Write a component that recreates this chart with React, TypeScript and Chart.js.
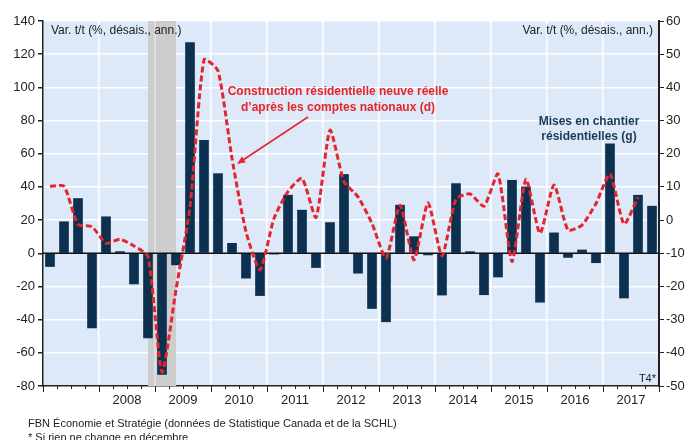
import React, { useEffect, useRef } from "react";
import { Chart, registerables } from "chart.js";

Chart.register(...registerables);

// ---- Data ----
const years = ["2007", "2008", "2009", "2010", "2011", "2012", "2013", "2014", "2015", "2016", "2017"];
const quarters = ["T1", "T2", "T3", "T4"];
const categories = years.flatMap((y) => quarters.map((q) => `${y}${q}`));

// Mises en chantier résidentielles (g), left axis
const housingStarts = [
  -8, 19, 33, -45, 22, 1, -18.5, -51, -73, -7, 127, 68, 48, 6, -15, -25.5,
  -0.5, 35, 26, -8.6, 18.5, 47.5, -12, -33.3, -41.3, 29, 10, -1, -25.2, 42, 1, -25,
  -14.3, 44, 40, -29.5, 12.3, -2.5, 2, -5.7, 66, -27, 35, 28.4,
];

// Construction résidentielle neuve réelle (d), right axis
const residentialConstruction = [
  10.2, 10.2, -1.3, -2, -7, -5.8, -7.8, -11, -45.8, -21, 4, 48.3, 45, 18.6, -3.5, -15,
  0.5, 8.6, 12.6, 0.8, 27.1, 11.6, 7, -1, -11.5, 4.5, -12, 5.2, -10.8, 6.3, 7.9, 4.2,
  13.9, -12.5, 12.3, -4, 10.6, -3, -1.5, 5, 13.9, -1.2, 6.9, null,
];

const leftTicks = { min: -80, max: 140, step: 20 };
const rightTicks = { min: -50, max: 60, step: 10 };
const recession = { from: "2008T4", to: "2009T2" };

const FONT = "'Liberation Sans', Arial, Helvetica, sans-serif";
const RED = "#e5242c";
const NAVY = "#0c3150";
const BG = "#dde9f8";

const decor = {
  id: "decor",
  beforeDraw(chart: any) {
    const { ctx, chartArea: a } = chart;
    ctx.save();
    ctx.fillStyle = BG;
    ctx.fillRect(a.left, a.top, a.right - a.left, a.bottom - a.top);
    ctx.restore();
  },
  beforeDatasetsDraw(chart: any) {
    const { ctx, chartArea: a } = chart;
    const xs = chart.scales.x;
    const i0 = categories.indexOf(recession.from);
    const i1 = categories.indexOf(recession.to);
    const x0 = xs.getPixelForValue(i0 + 0.5);
    const x1 = xs.getPixelForValue(i1 + 0.5);
    ctx.save();
    ctx.fillStyle = "#cdcdcd";
    ctx.fillRect(x0, a.top, x1 - x0, a.bottom - a.top);
    // faint year gridline inside the shade
    ctx.strokeStyle = "rgba(255,255,255,0.45)";
    ctx.lineWidth = 1.5;
    for (let v = 0; v <= categories.length; v += 4) {
      const px = xs.getPixelForValue(v);
      if (px > x0 && px < x1) {
        ctx.beginPath();
        ctx.moveTo(px, a.top);
        ctx.lineTo(px, a.bottom);
        ctx.stroke();
      }
    }
    ctx.restore();
  },
  beforeDatasetDraw(chart: any, args: any) {
    if (args.index !== 0) return;
    const { ctx, chartArea: a } = chart;
    const y0 = chart.scales.y.getPixelForValue(0);
    ctx.save();
    ctx.strokeStyle = "#111";
    ctx.lineWidth = 1.5;
    ctx.beginPath();
    ctx.moveTo(a.left, y0);
    ctx.lineTo(a.right, y0);
    ctx.stroke();
    ctx.restore();
  },
  afterDraw(chart: any) {
    const { ctx, chartArea: a } = chart;
    const xs = chart.scales.x;
    ctx.save();
    // x-axis ticks
    ctx.strokeStyle = "#222";
    ctx.lineWidth = 1;
    for (let i = 0; i <= categories.length; i++) {
      const px = Math.round(xs.getPixelForValue(i)) + 0.5;
      ctx.beginPath();
      ctx.moveTo(px, a.bottom);
      ctx.lineTo(px, a.bottom + (i % 4 === 0 ? 6 : 3));
      ctx.stroke();
    }
    // unit labels
    ctx.fillStyle = "#222";
    ctx.font = `12px ${FONT}`;
    ctx.textBaseline = "middle";
    ctx.textAlign = "left";
    ctx.fillText("Var. t/t (%, désais., ann.)", a.left + 8, 31);
    ctx.textAlign = "right";
    ctx.fillText("Var. t/t (%, désais., ann.)", a.right - 6, 31);
    ctx.font = `11px ${FONT}`;
    ctx.fillText("T4*", a.right - 3, 379);
    // red annotation
    ctx.textAlign = "center";
    ctx.font = `bold 12px ${FONT}`;
    ctx.fillStyle = RED;
    ctx.fillText("Construction résidentielle neuve réelle", 338, 92);
    ctx.fillText("d’après les comptes nationaux (d)", 338, 108);
    // arrow
    const sx = 308, sy = 117, ex = 237, ey = 164;
    ctx.strokeStyle = RED;
    ctx.lineWidth = 1.5;
    ctx.beginPath();
    ctx.moveTo(sx, sy);
    ctx.lineTo(ex + 6, ey - 4);
    ctx.stroke();
    const ang = Math.atan2(ey - sy, ex - sx);
    ctx.beginPath();
    ctx.moveTo(ex, ey);
    ctx.lineTo(ex - 9 * Math.cos(ang - 0.4), ey - 9 * Math.sin(ang - 0.4));
    ctx.lineTo(ex - 9 * Math.cos(ang + 0.4), ey - 9 * Math.sin(ang + 0.4));
    ctx.closePath();
    ctx.fillStyle = RED;
    ctx.fill();
    // navy annotation
    ctx.fillStyle = "#173a58";
    ctx.fillText("Mises en chantier", 589, 122);
    ctx.fillText("résidentielles (g)", 589, 137);
    // footer
    ctx.textAlign = "left";
    ctx.fillStyle = "#222";
    ctx.font = `11px ${FONT}`;
    ctx.fillText("FBN Économie et Stratégie (données de Statistique Canada et de la SCHL)", 28, 424);
    ctx.fillText("* Si rien ne change en décembre", 28, 438);
    ctx.restore();
  },
};

export default function App() {
  const ref = useRef<HTMLCanvasElement>(null);

  useEffect(() => {
    if (!ref.current) return;
    const n = categories.length;
    const chart = new Chart(ref.current, {
      type: "bar",
      data: {
        datasets: [
          {
            type: "line",
            label: "Construction résidentielle neuve réelle (d)",
            data: residentialConstruction.map((v, i) => ({ x: i + 0.5, y: v })) as any,
            yAxisID: "y2",
            borderColor: RED,
            borderWidth: 3,
            borderDash: [6, 3],
            pointRadius: 0,
            tension: 0.2,
            spanGaps: false,
            order: 0,
          } as any,
          {
            type: "bar",
            label: "Mises en chantier résidentielles (g)",
            data: housingStarts.map((v, i) => ({ x: i + 0.5, y: v })) as any,
            yAxisID: "y",
            backgroundColor: NAVY,
            barThickness: 9,
            order: 1,
          } as any,
        ],
      },
      options: {
        responsive: false,
        animation: false,
        layout: { padding: { top: 21, left: 0, right: 0, bottom: 0 } },
        plugins: { legend: { display: false }, tooltip: { enabled: false } },
        scales: {
          x: {
            type: "linear",
            offset: false,
            min: 0,
            max: n,
            afterBuildTicks: (s: any) => {
              s.ticks = Array.from({ length: n + 1 }, (_, i) => ({ value: i }));
            },
            afterFit: (s: any) => {
              s.height = 54;
            },
            ticks: {
              autoSkip: false,
              maxRotation: 0,
              padding: 1,
              color: "#222",
              font: { size: 13, family: FONT },
              callback: (v: any) => {
                const i = Number(v);
                if (i % 4 === 2 && i >= 6) return years[(i - 2) / 4];
                return "";
              },
            },
            grid: {
              offset: false,
              color: (c: any) => {
                const v = c.tick ? c.tick.value : -1;
                return v % 4 === 0 && v > 0 && v < n ? "#ffffff" : "rgba(0,0,0,0)";
              },
              lineWidth: 1.5,
              drawTicks: true,
              tickLength: 6,
              tickColor: "rgba(0,0,0,0)",
            },
            border: { display: true, color: "#222", width: 1.5 },
          },
          y: {
            type: "linear",
            position: "left",
            min: leftTicks.min,
            max: leftTicks.max,
            afterFit: (s: any) => {
              s.width = 43;
            },
            ticks: {
              stepSize: leftTicks.step,
              padding: 3,
              color: "#222",
              font: { size: 13, family: FONT },
            },
            grid: {
              color: (c: any) => (c.tick && c.tick.value === 0 ? "rgba(0,0,0,0)" : "#ffffff"),
              lineWidth: 1.5,
              tickLength: 5,
              tickColor: "#222",
            },
            border: { display: true, color: "#222", width: 1.5 },
          },
          y2: {
            type: "linear",
            position: "right",
            min: rightTicks.min,
            max: rightTicks.max,
            afterFit: (s: any) => {
              s.width = 39;
            },
            ticks: {
              stepSize: rightTicks.step,
              padding: 2,
              color: "#222",
              font: { size: 13, family: FONT },
            },
            grid: {
              drawOnChartArea: false,
              tickLength: 5,
              tickColor: "#222",
            },
            border: { display: true, color: "#222", width: 2 },
          },
        },
      },
      plugins: [decor],
    } as any);
    return () => chart.destroy();
  }, []);

  return (
    <div style={{ position: "absolute", left: 0, top: 0, width: 698, height: 440, background: "#fff" }}>
      <canvas ref={ref} width={698} height={440} style={{ display: "block" }} />
    </div>
  );
}
